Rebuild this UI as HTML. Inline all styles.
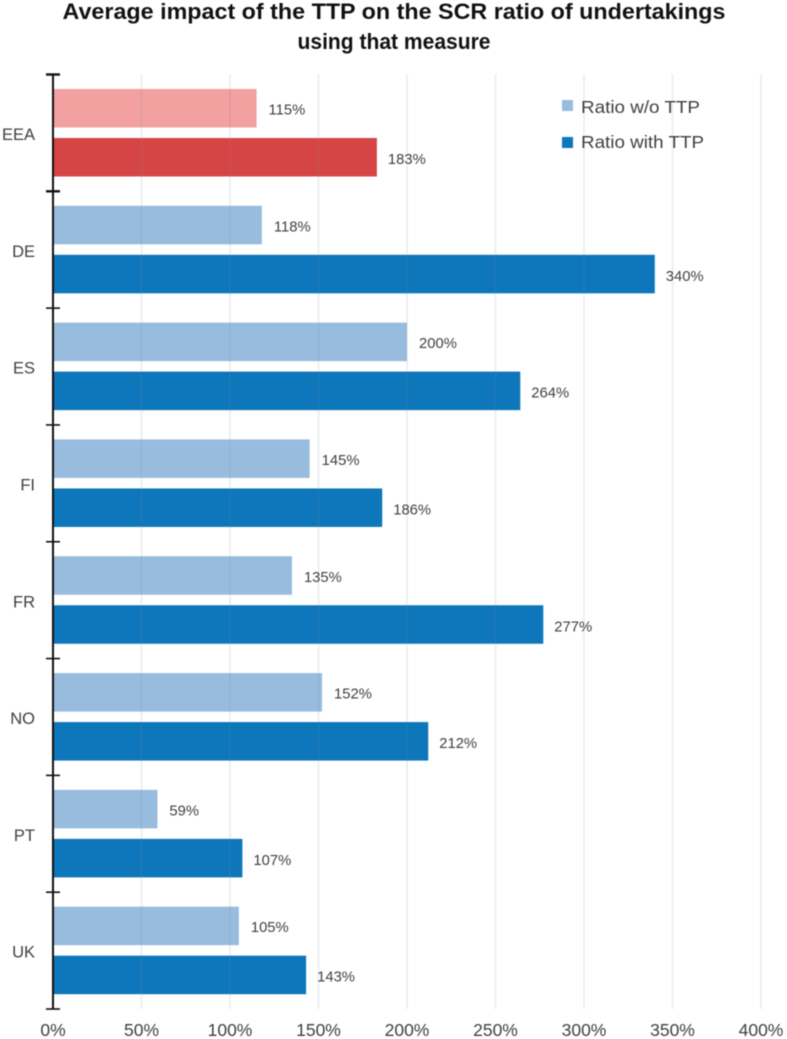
<!DOCTYPE html>
<html lang="en">
<head>
<meta charset="utf-8">
<title>Average impact of the TTP on the SCR ratio</title>
<style>
html,body{margin:0;padding:0;background:#fff;}
#wrap{width:787px;height:1039px;overflow:hidden;}
svg{display:block;font-family:"Liberation Sans",sans-serif;filter:blur(0.45px);}
</style>
</head>
<body>
<div id="wrap">
<svg id="chart" width="787" height="1039" viewBox="0 0 787 1039">
  <text x="394" y="19" text-anchor="middle" font-size="22" font-weight="700" fill="#111" textLength="663" lengthAdjust="spacingAndGlyphs">Average impact of the TTP on the SCR ratio of undertakings</text>
  <text x="394" y="49" text-anchor="middle" font-size="22" font-weight="700" fill="#111" textLength="193" lengthAdjust="spacingAndGlyphs">using that measure</text>
  <g id="bars"></g>
  <g id="grid"></g>
  <g id="labels"></g>
  <g id="axis"></g>
  <g id="xticks"></g>
  <g>
    <rect x="562" y="100" width="11" height="11" fill="#98bcde"></rect>
    <text x="581" y="113" font-size="17.5" fill="#404040" textLength="119" lengthAdjust="spacingAndGlyphs">Ratio w/o TTP</text>
    <rect x="562" y="137" width="11" height="11" fill="#0e76ba"></rect>
    <text x="581" y="148" font-size="17.5" fill="#404040" textLength="123" lengthAdjust="spacingAndGlyphs">Ratio with TTP</text>
  </g>
</svg>
</div>
<script>
const categories = ['EEA', 'DE', 'ES', 'FI', 'FR', 'NO', 'PT', 'UK'];
const ratioWithoutTtp = [115, 118, 200, 145, 135, 152, 59, 105];
const ratioWithTtp = [183, 340, 264, 186, 277, 212, 107, 143];
const xTickValues = [0, 50, 100, 150, 200, 250, 300, 350, 400];

const NS = 'http://www.w3.org/2000/svg';
const plotLeft = 53, plotRight = 761, plotTop = 74.5, plotBottom = 1009;
const xMax = 400;
const barHeight = 38.5;

function xScale(v) {
  return plotLeft + (v / xMax) * (plotRight - plotLeft);
}
function bandTop(i) {
  return plotTop + i * (plotBottom - plotTop) / categories.length;
}
function make(tag, attrs, parent, text) {
  const el = document.createElementNS(NS, tag);
  for (const k in attrs) el.setAttribute(k, attrs[k]);
  if (text !== undefined) el.textContent = text;
  parent.appendChild(el);
  return el;
}

const barsG = document.getElementById('bars');
const gridG = document.getElementById('grid');
const labelsG = document.getElementById('labels');
const axisG = document.getElementById('axis');
const xticksG = document.getElementById('xticks');

categories.forEach(function (cat, i) {
  const top = bandTop(i);
  const key = cat.toLowerCase();
  const isEea = cat === 'EEA';

  const y1 = top + 14.5;
  const light = make('rect', {x: plotLeft, y: y1, width: xScale(ratioWithoutTtp[i]) - plotLeft, height: barHeight, fill: isEea ? '#f2a0a0' : '#98bcde'}, barsG);
  
  

  const y2 = top + 63.5;
  const dark = make('rect', {x: plotLeft, y: y2, width: xScale(ratioWithTtp[i]) - plotLeft, height: barHeight, fill: isEea ? '#d64545' : '#0e76ba'}, barsG);
  
  

  const l1 = make('text', {x: xScale(ratioWithoutTtp[i]) + 12, y: y1 + 25.5, 'font-size': 14.8, fill: '#404040'}, labelsG, ratioWithoutTtp[i] + '%');
  
  

  const l2 = make('text', {x: xScale(ratioWithTtp[i]) + 11, y: y2 + 26, 'font-size': 14.8, fill: '#404040'}, labelsG, ratioWithTtp[i] + '%');
  
  

  const c = make('text', {x: 35, y: top + 65.5, 'text-anchor': 'end', 'font-size': 16.5, fill: '#404040'}, axisG, cat);
  
  
});

xTickValues.forEach(function (v) {
  if (v > 0) {
    const g = make('line', {x1: xScale(v), x2: xScale(v), y1: plotTop, y2: plotBottom, stroke: '#7f8f9f', 'stroke-opacity': 0.17, 'stroke-width': 1.6}, gridG);
    
    
  }
  const t = make('text', {x: xScale(v), y: 1036, 'text-anchor': 'middle', 'font-size': 17.5, fill: '#404040'}, xticksG, v + '%');
  
  
});

const axisLine = make('line', {x1: plotLeft, x2: plotLeft, y1: plotTop, y2: plotBottom, stroke: '#111', 'stroke-width': 2}, axisG);



for (let i = 0; i <= categories.length; i++) {
  const y = bandTop(i);
  const tick = make('line', {x1: 46, x2: 60, y1: y, y2: y, stroke: '#111', 'stroke-width': (i < 2 ? 2.4 : 1.6)}, axisG);
  
  
}
</script>
</body>
</html>
